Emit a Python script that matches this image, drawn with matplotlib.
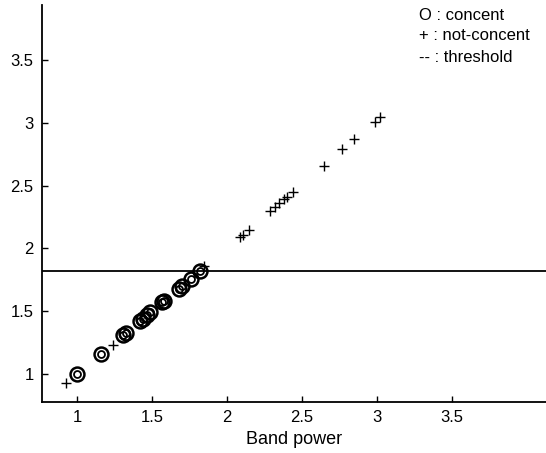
import matplotlib.pyplot as plt
import numpy as np

plt.rcParams.update({
    "font.family": ["Liberation Sans", "DejaVu Sans"],
    "axes.spines.top": False,
    "axes.spines.right": False,
})

# concent samples (band power vs. index)
concent_x = [1.00, 1.16, 1.31, 1.33, 1.42, 1.44, 1.47, 1.49, 1.57, 1.58, 1.68, 1.70, 1.76, 1.82]
concent_y = [1.00, 1.16, 1.31, 1.33, 1.42, 1.44, 1.47, 1.49, 1.57, 1.58, 1.68, 1.70, 1.76, 1.82]

# not-concent samples
notc_x = [0.93, 1.24, 1.85, 2.09, 2.11, 2.15, 2.29, 2.32, 2.35, 2.38, 2.40, 2.44,
          2.65, 2.77, 2.85, 2.99, 3.02]
notc_y = [0.93, 1.23, 1.86, 2.09, 2.11, 2.15, 2.30, 2.33, 2.36, 2.39, 2.41, 2.45,
          2.66, 2.79, 2.87, 3.01, 3.05]

threshold = 1.82

fig = plt.figure(figsize=(5.46, 4.53), dpi=100)
ax = fig.add_axes([0.077, 0.1126, 0.923, 0.876])

ax.axhline(threshold, color="black", linewidth=1.3)

ax.plot(concent_x, concent_y, linestyle="none", marker="o", markersize=10,
        markerfacecolor="none", markeredgecolor="black", markeredgewidth=1.8)
ax.plot(concent_x, concent_y, linestyle="none", marker="o", markersize=5,
        markerfacecolor="none", markeredgecolor="black", markeredgewidth=1.3)
ax.plot(notc_x, notc_y, linestyle="none", marker="+", markersize=7.5,
        color="black", markeredgewidth=1.0)

ax.set_xlim(0.767, 4.127)
ax.set_ylim(0.777, 3.938)
ax.set_xticks([1, 1.5, 2, 2.5, 3, 3.5])
ax.set_xticklabels(["1", "1.5", "2", "2.5", "3", "3.5"])
ax.set_yticks([1, 1.5, 2, 2.5, 3, 3.5])
ax.set_yticklabels(["1", "1.5", "2", "2.5", "3", "3.5"])
ax.tick_params(direction="in", length=4, width=1, labelsize=12, pad=6)
for s in ["left", "bottom"]:
    ax.spines[s].set_linewidth(1.3)

ax.set_xlabel("Band power", fontsize=13, labelpad=4)

fig.text(419 / 546, 1 - 15 / 453, "O : concent", fontsize=12, va="center")
fig.text(419 / 546, 1 - 36 / 453, "+ : not-concent", fontsize=12, va="center")
fig.text(419 / 546, 1 - 57 / 453, "-- : threshold", fontsize=12, va="center")

fig.savefig("out.png", dpi=100)
